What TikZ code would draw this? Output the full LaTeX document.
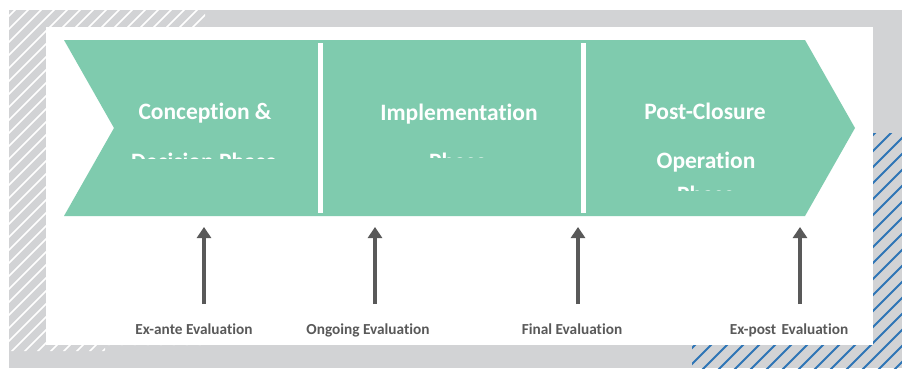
\documentclass[tikz,border=0pt]{standalone}
\usepackage{fontspec}
\setmainfont[Ligatures={NoCommon,NoContextual}]{Carlito}
\usetikzlibrary{arrows.meta}
\definecolor{bggrey}{HTML}{D2D3D5}
\definecolor{phasegreen}{HTML}{7FCBAE}
\definecolor{arrowgrey}{HTML}{595959}
\definecolor{hatchblue}{HTML}{2E75B6}
\tikzset{
  phasetext/.style={text=white, font=\bfseries\fontsize{23.5}{27}\selectfont, anchor=base, inner sep=0pt},
  evaltext/.style={text=arrowgrey, font=\bfseries\fontsize{15.3}{18}\selectfont, anchor=base, inner sep=0pt},
  evalarrow/.style={draw=arrowgrey, line width=4pt, -{Triangle[width=14pt,length=11pt]}},
  separator/.style={draw=white, line width=5pt},
}
\begin{document}
\begin{tikzpicture}[x=1pt,y=-1pt]
\useasboundingbox (0,0) rectangle (902,368);
\fill[white] (0,0) rectangle (902,368);
% grey frame
\fill[bggrey] (9,10) rectangle (902,368);
% white hatching top-left
\begin{scope}
  \clip (9,10) -- (205,10) -- (205,345) -- (105,345) -- (105,351) -- (9,351) -- cycle;
  \foreach \i in {-400,-387,...,260} {
    \draw[white, line width=1.6pt] (\i,360) -- ++(360,-360);
  }
\end{scope}
% blue hatching bottom-right
\begin{scope}
  \clip (692,133) rectangle (902,368);
  \foreach \i in {430,446,...,910} {
    \draw[hatchblue, line width=1.8pt] (\i,370) -- ++(260,-260);
  }
\end{scope}
% white panel
\fill[white] (46,27) rectangle (873,345);
% chevron
\fill[phasegreen] (64,40) -- (805,40) -- (855,128) -- (805,216) -- (64,216) -- (114,128) -- cycle;
\coordinate (s1t) at (320.5,43);
\coordinate (s1b) at (320.5,213);
\coordinate (s2t) at (583.5,43);
\coordinate (s2b) at (583.5,213);
\draw[separator] (s1t) -- (s1b);
\draw[separator] (s2t) -- (s2b);
% phase texts (clipped)
\begin{scope}
  \clip (64,40) rectangle (318,158);
  \node[phasetext] (p1a) at (205,119) {Conception \&};
  \node[phasetext] (p1b) at (204,169) {Decision Phase};
\end{scope}
\begin{scope}
  \clip (323,40) rectangle (581,157);
  \node[phasetext] (p2a) at (459,120) {Implementation};
  \node[phasetext] (p2b) at (458,169) {Phase};
\end{scope}
\begin{scope}
  \clip (586,40) rectangle (855,190);
  \node[phasetext] (p3a) at (705,119) {Post-Closure};
  \node[phasetext] (p3b) at (706,168) {Operation};
  \node[phasetext] (p3c) at (706,202) {Phase};
\end{scope}
% evaluation labels
\node[evaltext] (e1) at (194,334) {Ex-ante Evaluation};
\node[evaltext] (e2) at (368,334) {Ongoing Evaluation};
\node[evaltext] (e3) at (572,334) {Final Evaluation};
\node[evaltext] (e4) at (789,334) {Ex-post\hspace{2pt} Evaluation};
% arrows
\coordinate (a1b) at (204,304); \coordinate (a1t) at (204,227);
\coordinate (a2b) at (375,304); \coordinate (a2t) at (375,227);
\coordinate (a3b) at (578,304); \coordinate (a3t) at (578,227);
\coordinate (a4b) at (800,304); \coordinate (a4t) at (800,227);
\draw[evalarrow] (a1b) -- (a1t);
\draw[evalarrow] (a2b) -- (a2t);
\draw[evalarrow] (a3b) -- (a3t);
\draw[evalarrow] (a4b) -- (a4t);
\end{tikzpicture}
\end{document}
